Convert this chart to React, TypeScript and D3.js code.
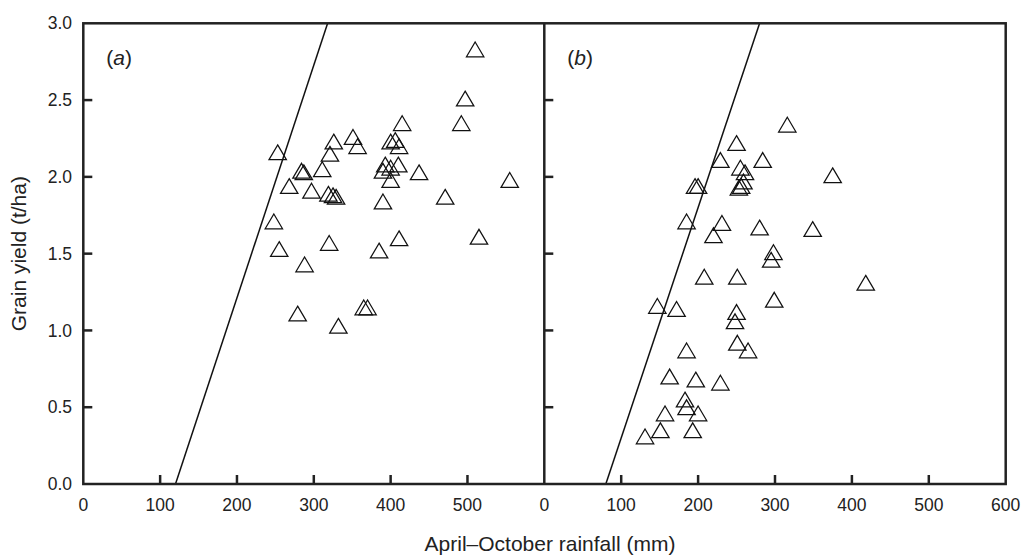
import React from "react";
import * as d3 from "d3";

const WIDTH = 1023;
const HEIGHT = 556;

// panel (a)
const rainfallA = [
  510, 497, 492, 415, 326, 351, 357, 321, 253, 400, 406, 411, 311, 284, 287,
  393, 410, 400, 390, 400, 437, 555, 268, 297, 319, 325, 329, 390, 471, 248,
  411, 515, 320, 255, 385, 288, 279, 332, 365, 370,
];
const yieldA = [
  2.83, 2.51, 2.35, 2.35, 2.23, 2.26, 2.2, 2.15, 2.16, 2.23, 2.24, 2.2, 2.05, 2.04, 2.03,
  2.08, 2.08, 2.06, 2.04, 1.98, 2.03, 1.98, 1.94, 1.91, 1.89, 1.88, 1.87, 1.84, 1.87, 1.71,
  1.6, 1.61, 1.57, 1.53, 1.52, 1.43, 1.11, 1.03, 1.15, 1.15,
];

// panel (b)
const rainfallB = [
  316, 250, 229, 255, 284, 261, 375, 196, 200, 259, 256, 253, 185, 231, 220,
  280, 349, 298, 295, 208, 251, 418, 299, 147, 172, 250, 248, 185, 251, 265,
  163, 197, 229, 183, 185, 157, 200, 151, 193, 131,
];
const yieldB = [
  2.34, 2.22, 2.11, 2.06, 2.11, 2.03, 2.01, 1.94, 1.94, 1.97, 1.94, 1.93, 1.71, 1.7, 1.62,
  1.67, 1.66, 1.51, 1.46, 1.35, 1.35, 1.31, 1.2, 1.16, 1.14, 1.12, 1.06, 0.87, 0.92, 0.87,
  0.7, 0.68, 0.66, 0.55, 0.5, 0.46, 0.46, 0.35, 0.35, 0.31,
];

// water-limited boundary lines (rainfall, yield)
const boundaryA: [number, number][] = [[120, 0], [318, 3]];
const boundaryB: [number, number][] = [[80, 0], [280, 3]];

const xTicks = [0, 100, 200, 300, 400, 500, 600];
const yTicks = [0, 0.5, 1.0, 1.5, 2.0, 2.5, 3.0];

const FONT = "'Liberation Sans', Arial, Helvetica, sans-serif";
const INK = "#222";

const y = d3.scaleLinear().domain([0, 3]).range([484, 23.3]);
const xA = d3.scaleLinear().domain([0, 600]).range([83.3, 544.3]);
const xB = d3.scaleLinear().domain([0, 600]).range([544.3, 1005.7]);

const tri = (cx: number, cy: number) => {
  const hw = 8.7;
  const hh = 7.4;
  return `M${cx},${cy - hh}L${cx + hw},${cy + hh}L${cx - hw},${cy + hh}Z`;
};

const Panel = ({ x, xs, ys, line, label, id, lastLabel }: any) => {
  const [x0, x1] = x.range();
  const line2 = d3
    .line<[number, number]>()
    .x((d) => x(d[0]))
    .y((d) => y(d[1]));
  return (
    <g>
      <clipPath id={id}>
        <rect x={x0} y={y(3)} width={x1 - x0} height={y(0) - y(3)} />
      </clipPath>
      <path d={line2(line) || ""} stroke="#111" strokeWidth={1.5} fill="none" clipPath={`url(#${id})`} />
      {xs.map((v: number, i: number) => (
        <path key={i} d={tri(x(v), y(ys[i]))} fill="none" stroke="#111" strokeWidth={1.25} />
      ))}
      {/* inward ticks */}
      {xTicks.slice(1, -1).map((t) => (
        <line key={"xt" + t} x1={x(t)} x2={x(t)} y1={y(0)} y2={y(0) - 9} stroke={INK} strokeWidth={2.5} />
      ))}
      {yTicks.slice(1, -1).map((t) => (
        <line key={"yt" + t} x1={x0} x2={x0 + 9} y1={y(t)} y2={y(t)} stroke={INK} strokeWidth={2.5} />
      ))}
      {xTicks.filter((t) => lastLabel || t < 600).map((t) => (
        <text key={"xl" + t} x={x(t)} y={510.5} textAnchor="middle" fontSize={17.5} fontFamily={FONT} fill={INK}>
          {t}
        </text>
      ))}
      <text x={x0 + 23} y={65} fontSize={21} fontFamily={FONT} fill={INK}>
        (<tspan fontStyle="italic">{label}</tspan>)
      </text>
    </g>
  );
};

export default function App() {
  return (
    <svg
      width={WIDTH}
      height={HEIGHT}
      style={{ position: "absolute", left: 0, top: 0, background: "#fff" }}
    >
      <Panel x={xA} xs={rainfallA} ys={yieldA} line={boundaryA} label="a" id="clipA" lastLabel={false} />
      <Panel x={xB} xs={rainfallB} ys={yieldB} line={boundaryB} label="b" id="clipB" lastLabel={true} />

      {/* frame */}
      <rect
        x={xA(0)}
        y={y(3)}
        width={xB(600) - xA(0)}
        height={y(0) - y(3)}
        fill="none"
        stroke={INK}
        strokeWidth={2.5}
      />
      <line x1={xB(0)} x2={xB(0)} y1={y(3)} y2={y(0)} stroke={INK} strokeWidth={2.5} />

      {yTicks.map((t) => (
        <text
          key={"yl" + t}
          x={72}
          y={y(t)}
          dy="0.35em"
          textAnchor="end"
          fontSize={17.5}
          fontFamily={FONT}
          fill={INK}
        >
          {t.toFixed(1)}
        </text>
      ))}

      <text
        transform={`translate(26,${(y(0) + y(3)) / 2}) rotate(-90)`}
        textAnchor="middle"
        fontSize={21}
        fontFamily={FONT}
        fill={INK}
      >
        Grain yield (t/ha)
      </text>
      <text x={550} y={551} textAnchor="middle" fontSize={21} fontFamily={FONT} fill={INK}>
        April–October rainfall (mm)
      </text>
    </svg>
  );
}
